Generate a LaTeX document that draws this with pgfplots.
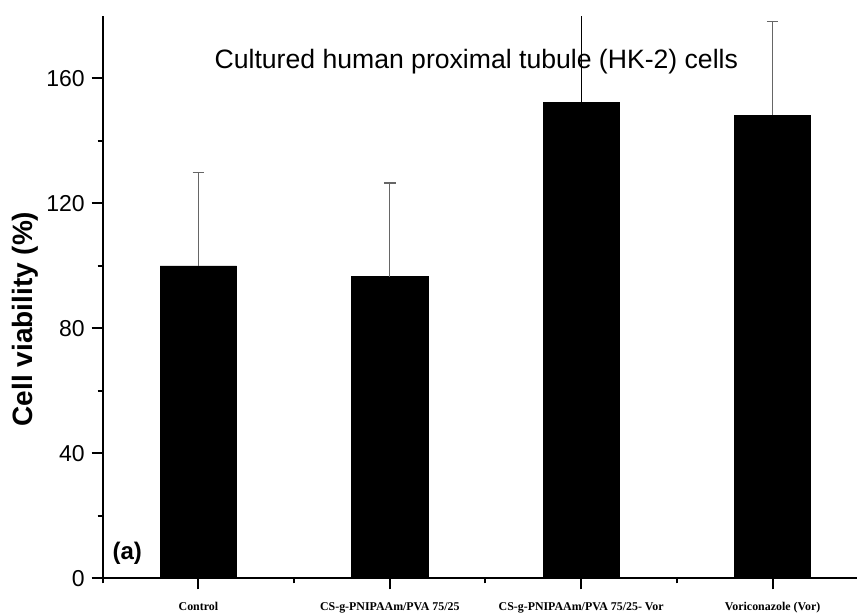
\documentclass[border=0pt]{standalone}
\usepackage{fontspec}
\setmainfont{Liberation Sans}
\newfontfamily\labelserif{Liberation Serif}
\usepackage{pgfplots}
\pgfplotsset{compat=1.18}
\usepackage{pgfplotstable}

% viability of HK-2 cells: mean and upper standard deviation
\pgfplotstableread{
x  y      err
0  100.0  30.0
1  96.5   30.0
3  148.3  30.0
}\viabgray
\pgfplotstableread{
x  y      err
2  152.3  40.0
}\viabblack

\begin{document}
\begin{tikzpicture}
\begin{axis}[
  scale only axis,
  width=377.15pt, height=281.15pt,
  axis lines*=left,
  axis line style={line width=1pt, black},
  xmin=-0.5, xmax=3.441,
  ymin=0, ymax=180,
  xtick={0,1,2,3},
  xticklabels={Control, CS-g-PNIPAAm/PVA 75/25, CS-g-PNIPAAm/PVA 75/25- Vor, Voriconazole (Vor)},
  minor xtick={-0.5,0.5,1.5,2.5},
  ytick={0,40,80,120,160},
  minor ytick={20,60,100,140},
  tick align=outside,
  major tick length=5.5pt,
  minor tick length=2.5pt,
  tick style={line width=1pt, black},
  /pgf/number format/assume math mode=true,
  yticklabel style={font=\fontsize{11.5}{13}\selectfont},
  xticklabel style={font=\labelserif\bfseries\fontsize{5.95}{6.5}\selectfont,
    anchor=base, yshift=-10.4pt},
  ylabel={Cell viability (\%)},
  ylabel style={font=\bfseries\fontsize{14}{16}\selectfont,
    at={(axis description cs:-0.0924,0.461)}, anchor=base},
  clip=true,
]
\addplot[ybar, bar width=0.4, bar shift=0pt, fill=black, draw=black,
  error bars/.cd, y dir=plus, y explicit,
  error bar style={line width=0.65pt, gray!80!black},
  error mark options={rotate=90, mark size=2.9pt, line width=0.65pt, gray!80!black}]
  table[x=x, y=y, y error=err] {\viabgray};
\addplot[ybar, bar width=0.4, bar shift=0pt, fill=black, draw=black,
  error bars/.cd, y dir=plus, y explicit,
  error bar style={line width=0.6pt, black},
  error mark options={rotate=90, mark size=2.9pt, line width=0.6pt, black}]
  table[x=x, y=y, y error=err] {\viabblack};
\node[anchor=base, font=\fontsize{13.3}{15}\selectfont]
  at (axis cs:1.452,163.3) {Cultured human proximal tubule (HK-2) cells};
\node[font=\bfseries\fontsize{12}{14}\selectfont]
  at (axis cs:-0.372,8.1) {(a)};
\end{axis}
\pgfresetboundingbox
\path[use as bounding box] (-51.35pt,-16.85pt) rectangle (377.15pt,289.15pt);
\end{tikzpicture}
\end{document}
